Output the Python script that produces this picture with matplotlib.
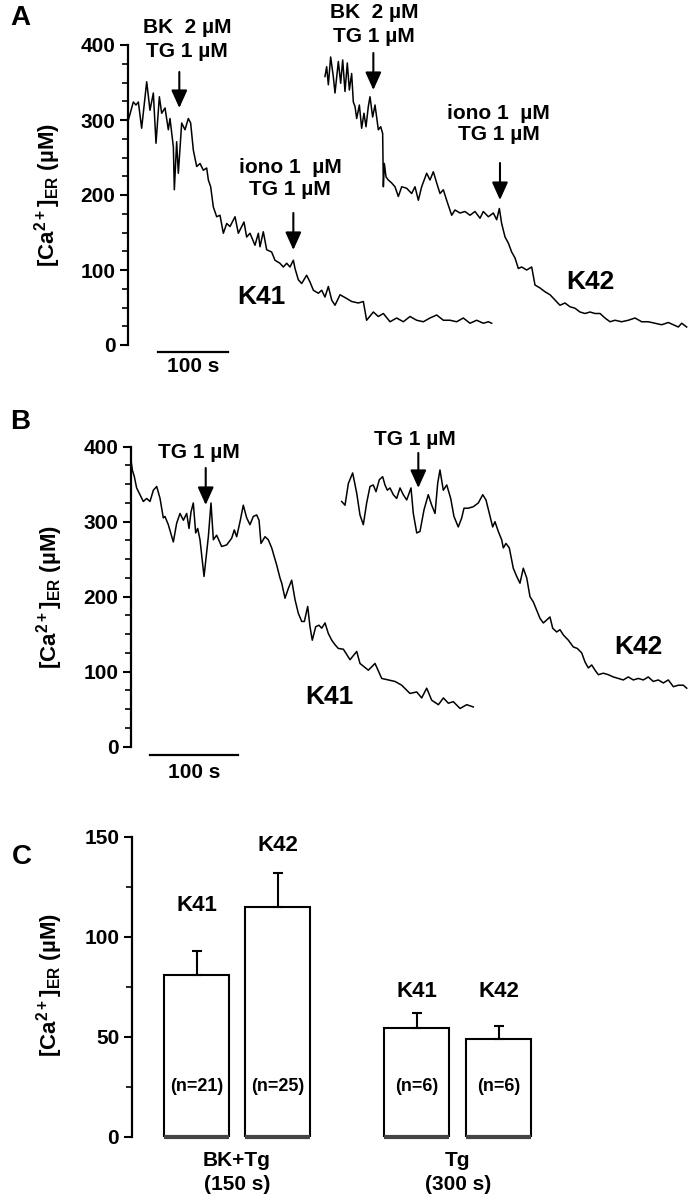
import matplotlib
matplotlib.use('Agg')
import matplotlib.pyplot as plt
from matplotlib.ticker import MultipleLocator

plt.rcParams['font.family'] = ['Liberation Sans', 'DejaVu Sans']
plt.rcParams['font.weight'] = 'bold'
plt.rcParams['mathtext.fontset'] = 'custom'
plt.rcParams['mathtext.rm'] = 'Liberation Sans:bold'
plt.rcParams['mathtext.bf'] = 'Liberation Sans:bold'
plt.rcParams['mathtext.default'] = 'rm'

# ---------------- data ----------------
# Panel A (time in s, [Ca2+]ER in uM)
a_k41_t = [0.5, 7.6, 11.4, 14.8, 19.5, 26.7, 31.4, 36.2, 40, 44.8, 48.1, 52.9, 57.6, 60, 64.8, 66.2,
           69.5, 71.9, 76.7, 81.4, 86.2, 89.5, 93.3, 98.1, 102.9, 107.6, 112.4, 114.8, 118.1, 121.9,
           126.7, 131.4, 136.2, 141, 145.7, 152.9, 157.6, 165.7, 169.5, 174.3, 181.4, 186.2, 188.6,
           193.3, 198.1, 205.2, 210, 217, 221.9, 226.7, 231.4, 236.2, 238.6, 243.3, 248.1, 255.2, 260,
           264.8, 271.9, 276.7, 281.4, 286.2, 291, 295.7, 302.9, 312.4, 319.5, 329, 336.2, 340.9, 350.5,
           357.6, 364.8, 374.3, 383.8, 393.3, 402.9, 412.4, 421.9, 431.4, 441, 450.5, 460, 469.5, 479,
           488.6, 498.1, 507.6, 514.8, 519.5]
a_k41_v = [300, 324, 320, 324, 289, 351, 313, 336, 269, 331, 309, 316, 287, 302, 264, 207, 271, 229,
           296, 287, 302, 296, 260, 238, 242, 233, 236, 220, 211, 184, 171, 173, 149, 162, 158, 171,
           149, 164, 144, 149, 133, 149, 131, 151, 127, 124, 113, 109, 104, 109, 104, 113, 102, 87, 82,
           93, 84, 73, 69, 73, 64, 78, 60, 53, 67, 62, 58, 56, 58, 33, 44, 38, 42, 31, 36, 31, 38, 33,
           31, 36, 40, 33, 33, 31, 36, 29, 33, 29, 31, 29]
a_k42_t = [281.4, 283.8, 286.2, 289.5, 293.3, 295.7, 300.5, 303.8, 306.7, 310, 313.3, 316.2, 319.5,
           321.9, 324.3, 326.7, 330.5, 333.8, 337.1, 340, 343.3, 345.7, 349.5, 352.9, 357.6, 361,
           363.8, 364.8, 366.2, 368.6, 371.9, 376.7, 381.4, 386.2, 391, 398.1, 405.2, 410, 414.8,
           419.5, 426.7, 431.4, 436.2, 441, 445.7, 450.5, 455.2, 462.4, 467.1, 474.3, 481.4, 488.6,
           495.7, 502.9, 507.6, 514.8, 521.9, 526.7, 530.5, 533.8, 538.6, 543.3, 548.1, 552.9, 557.6,
           562.4, 569.5, 576.7, 581.4, 588.6, 595.7, 602.9, 610, 617.1, 624.3, 631.4, 638.6, 645.7,
           652.9, 660, 667.1, 674.3, 681.4, 688.6, 695.7, 705.2, 714.8, 724.3, 733.8, 743.3, 752.9,
           762.4, 771.9, 779, 786.2, 791, 798.1]
a_k42_v = [358, 371, 347, 384, 358, 336, 378, 349, 380, 338, 376, 340, 362, 324, 318, 302, 320, 289,
           309, 291, 318, 331, 304, 320, 287, 291, 282, 211, 242, 224, 220, 216, 211, 198, 211, 209,
           202, 211, 193, 211, 229, 220, 231, 216, 202, 207, 193, 173, 180, 176, 178, 173, 178, 169,
           178, 171, 176, 167, 182, 162, 144, 136, 124, 116, 102, 104, 100, 104, 80, 76, 71, 67, 60,
           53, 56, 51, 49, 44, 42, 44, 42, 42, 36, 31, 33, 31, 33, 36, 31, 31, 29, 27, 30, 27, 24, 29, 24]

# Panel B
b_k41_t = [0, 1.5, 3.8, 6.4, 10.2, 14, 17.8, 21.6, 25.4, 29.2, 33, 36.7, 38.6, 42.4, 48.1, 51.9, 55.7,
           59.5, 63.3, 65.9, 68.2, 70.8, 73.5, 75.8, 78.4, 83, 87.9, 90.9, 93.6, 97.3, 103, 108.7,
           114.4, 117.4, 120.1, 123.9, 127.6, 131.5, 135.2, 139, 142.8, 145.5, 147.7, 152.3, 156,
           159.9, 165.6, 169.3, 171.3, 175, 178.8, 182.6, 186.4, 190.1, 194, 197, 200.8, 203.4, 206,
           209.9, 213.6, 216.7, 220.5, 224.2, 228.1, 231.8, 235.6, 241.3, 248.9, 256.5, 260.2, 269.7,
           277.3, 284.9, 292.4, 300, 307.6, 317, 324.7, 330.3, 336, 341.7, 349.3, 355, 360.6, 366.3,
           373.9, 381.5, 389]
b_k41_v = [382, 369, 360, 345, 336, 327, 331, 327, 342, 347, 331, 305, 307, 296, 273, 298, 311, 302,
           311, 291, 313, 325, 285, 291, 276, 227, 280, 325, 276, 282, 267, 269, 278, 289, 280, 300,
           322, 305, 296, 307, 309, 302, 271, 280, 276, 265, 242, 225, 218, 198, 211, 222, 196, 178,
           167, 167, 187, 160, 142, 160, 162, 158, 165, 151, 142, 136, 131, 130, 116, 127, 111, 102,
           111, 91, 89, 87, 82, 71, 73, 65, 78, 62, 56, 65, 58, 60, 51, 56, 53]
b_k42_t = [239.4, 243.2, 247, 251.9, 256.5, 260.2, 264, 267.8, 271.6, 275.3, 278.4, 282.2, 286, 288.6,
           291.3, 294.3, 298.1, 301.9, 305.7, 309.4, 313.3, 318.2, 320.8, 324.7, 328.4, 333, 337.8,
           341.7, 345.5, 348.5, 351.1, 354.9, 358.8, 363.3, 367, 371.9, 375.8, 378.4, 383.3, 389,
           394.7, 399.7, 403.4, 407.2, 411, 413.6, 417.4, 421.2, 423.1, 426.1, 429.9, 434.4, 438.3,
           442, 445.8, 449.7, 453.4, 457.2, 461, 464.8, 468.6, 472.4, 476.1, 479.2, 483.7, 487.5,
           491.3, 497, 502.6, 507.2, 512.2, 515.9, 519.7, 523.5, 527.3, 531.1, 536.7, 542.4, 548.1,
           553.8, 559.4, 565.1, 570.8, 576.5, 582.2, 587.8, 593.5, 599.2, 604.9, 610.6, 616.3, 622,
           627.6, 631.5]
b_k42_v = [327, 322, 351, 365, 338, 309, 296, 325, 347, 349, 340, 356, 360, 349, 342, 345, 336, 331,
           345, 336, 329, 345, 311, 285, 287, 316, 336, 322, 311, 351, 369, 342, 349, 331, 307, 293,
           305, 318, 318, 320, 325, 336, 329, 311, 293, 300, 287, 276, 265, 271, 265, 238, 227, 218,
           238, 225, 200, 193, 182, 171, 165, 169, 173, 158, 153, 156, 149, 142, 133, 131, 125, 113,
           105, 109, 102, 96, 98, 96, 93, 91, 89, 93, 89, 91, 89, 93, 87, 89, 85, 89, 80, 82, 82, 78]

# Panel C
c_cells = ['K41', 'K42', 'K41', 'K42']
c_means = [80.8, 114.7, 54.2, 48.7]
c_sem = [12.0, 17.0, 7.8, 6.8]
c_n = ['(n=21)', '(n=25)', '(n=6)', '(n=6)']
c_groups = ['BK+Tg\n(150 s)', 'Tg\n(300 s)']
c_pos = [0, 1, 2.72, 3.73]

W, H = 692, 1200
fig = plt.figure(figsize=(W / 100, H / 100), dpi=100)


def px_axes(x0, y_top, x1, y_bot):
    return fig.add_axes([x0 / W, 1 - y_bot / H, (x1 - x0) / W, (y_bot - y_top) / H])


def ftext(x, y, s, **kw):
    fig.text(x / W, 1 - y / H, s, **kw)


def style_left_axis(ax, major, minor, labelsize=15):
    for s in ['top', 'right', 'bottom']:
        ax.spines[s].set_visible(False)
    ax.spines['left'].set_linewidth(1.6)
    ax.set_xticks([])
    ax.yaxis.set_major_locator(MultipleLocator(major))
    ax.yaxis.set_minor_locator(MultipleLocator(minor))
    ax.tick_params(axis='y', which='major', length=6, width=1.5, labelsize=labelsize, pad=3)
    ax.tick_params(axis='y', which='minor', length=4, width=1.2)
    ax.patch.set_alpha(0)


def arrow(ax, x, y_from, y_to):
    ax.annotate('', xy=(x, y_to), xytext=(x, y_from),
                arrowprops=dict(arrowstyle='-|>,head_length=0.6,head_width=0.27', lw=1.5,
                                color='black', shrinkA=0, shrinkB=0, mutation_scale=18),
                annotation_clip=False)


def label(ax, x, y, s, size=15):
    ax.text(x, y, s, ha='center', va='center', fontsize=size, fontweight='bold', clip_on=False)


ylab = '[Ca$^{2+}$]$_{ER}$ (µM)'

# ---------------- Panel A ----------------
axa = px_axes(128, 45, 692, 345)
axa.set_xlim(0, 564 / 0.7)
axa.set_ylim(0, 400)
style_left_axis(axa, 100, 25)
axa.plot(a_k41_t, a_k41_v, color='black', lw=1.1, clip_on=False)
axa.plot(a_k42_t, a_k42_v, color='black', lw=1.1, clip_on=False)
arrow(axa, 73.3, 364, 316)
label(axa, 84.3, 422.7, 'BK  2 µM')
label(axa, 84.3, 390.7, 'TG 1 µM')
arrow(axa, 236.2, 176, 126.7)
label(axa, 231.4, 237.3, 'iono 1  µM')
label(axa, 231.4, 206.7, 'TG 1 µM')
arrow(axa, 350.5, 389.3, 340)
label(axa, 351.4, 442.7, 'BK  2 µM')
label(axa, 351.4, 410.7, 'TG 1 µM')
arrow(axa, 531.4, 242.7, 193.3)
label(axa, 529.3, 309.3, 'iono 1  µM')
label(axa, 529.3, 280, 'TG 1 µM')
label(axa, 190, 64, 'K41', size=19)
label(axa, 660, 84, 'K42', size=19)
axa.plot([42.9, 142.9], [-9.3, -9.3], color='black', lw=1.6, clip_on=False)
label(axa, 92.9, -29.3, '100 s')
ftext(48, 195, ylab, rotation=90, ha='center', va='center', fontsize=16, fontweight='bold')
ftext(20, 18, 'A', ha='center', va='center', fontsize=20, fontweight='bold')

# ---------------- Panel B ----------------
axb = px_axes(131, 446.7, 692, 746.7)
axb.set_xlim(0, 561 / 0.88)
axb.set_ylim(0, 400)
style_left_axis(axb, 100, 25)
axb.plot(b_k41_t, b_k41_v, color='black', lw=1.1, clip_on=False)
axb.plot(b_k42_t, b_k42_v, color='black', lw=1.1, clip_on=False)
arrow(axb, 84.9, 371.6, 322.3)
label(axb, 77.3, 392, 'TG 1 µM')
arrow(axb, 326.5, 391.6, 345)
label(axb, 322.7, 409, 'TG 1 µM')
label(axb, 225, 66, 'K41', size=19)
label(axb, 576, 133, 'K42', size=19)
axb.plot([21.6, 121.6], [-11, -11], color='black', lw=1.6, clip_on=False)
label(axb, 71.6, -35, '100 s')
ftext(50, 597, ylab, rotation=90, ha='center', va='center', fontsize=16, fontweight='bold')
ftext(20, 422, 'B', ha='center', va='center', fontsize=20, fontweight='bold')

# ---------------- Panel C ----------------
axc = px_axes(131.7, 836.7, 600, 1136.7)
axc.set_xlim(-0.8, (600 - 196.5) / 81)
axc.set_ylim(0, 150)
style_left_axis(axc, 50, 25, labelsize=15)
axc.bar(c_pos, c_means, width=0.8, color='white', edgecolor='black', lw=1.5, zorder=2)
axc.errorbar(c_pos, c_means, yerr=[[0] * 4, c_sem], fmt='none', ecolor='black',
             elinewidth=1.5, capsize=3.5, capthick=1.5, zorder=3)
for p in c_pos:
    axc.plot([p - 0.4, p + 0.4], [0, 0], color='#444444', lw=3, solid_capstyle='butt',
             clip_on=False, zorder=4)
for p, m, e, c, n in zip(c_pos, c_means, c_sem, c_cells, c_n):
    axc.text(p, 25, n, ha='center', va='center', fontsize=13, fontweight='bold')
label(axc, c_pos[0], 115.8, c_cells[0], size=16)
label(axc, c_pos[1], 145.8, c_cells[1], size=16)
label(axc, c_pos[2], 72.8, c_cells[2], size=16)
label(axc, c_pos[3], 72.8, c_cells[3], size=16)
for g, (p0, p1) in zip(c_groups, [(c_pos[0], c_pos[1]), (c_pos[2], c_pos[3])]):
    axc.text((p0 + p1) / 2, -7, g, ha='center', va='top', fontsize=15, fontweight='bold',
             linespacing=1.35, clip_on=False)
ftext(50, 985, ylab, rotation=90, ha='center', va='center', fontsize=16, fontweight='bold')
ftext(22, 857, 'C', ha='center', va='center', fontsize=20, fontweight='bold')

fig.savefig('out.png', dpi=100)
